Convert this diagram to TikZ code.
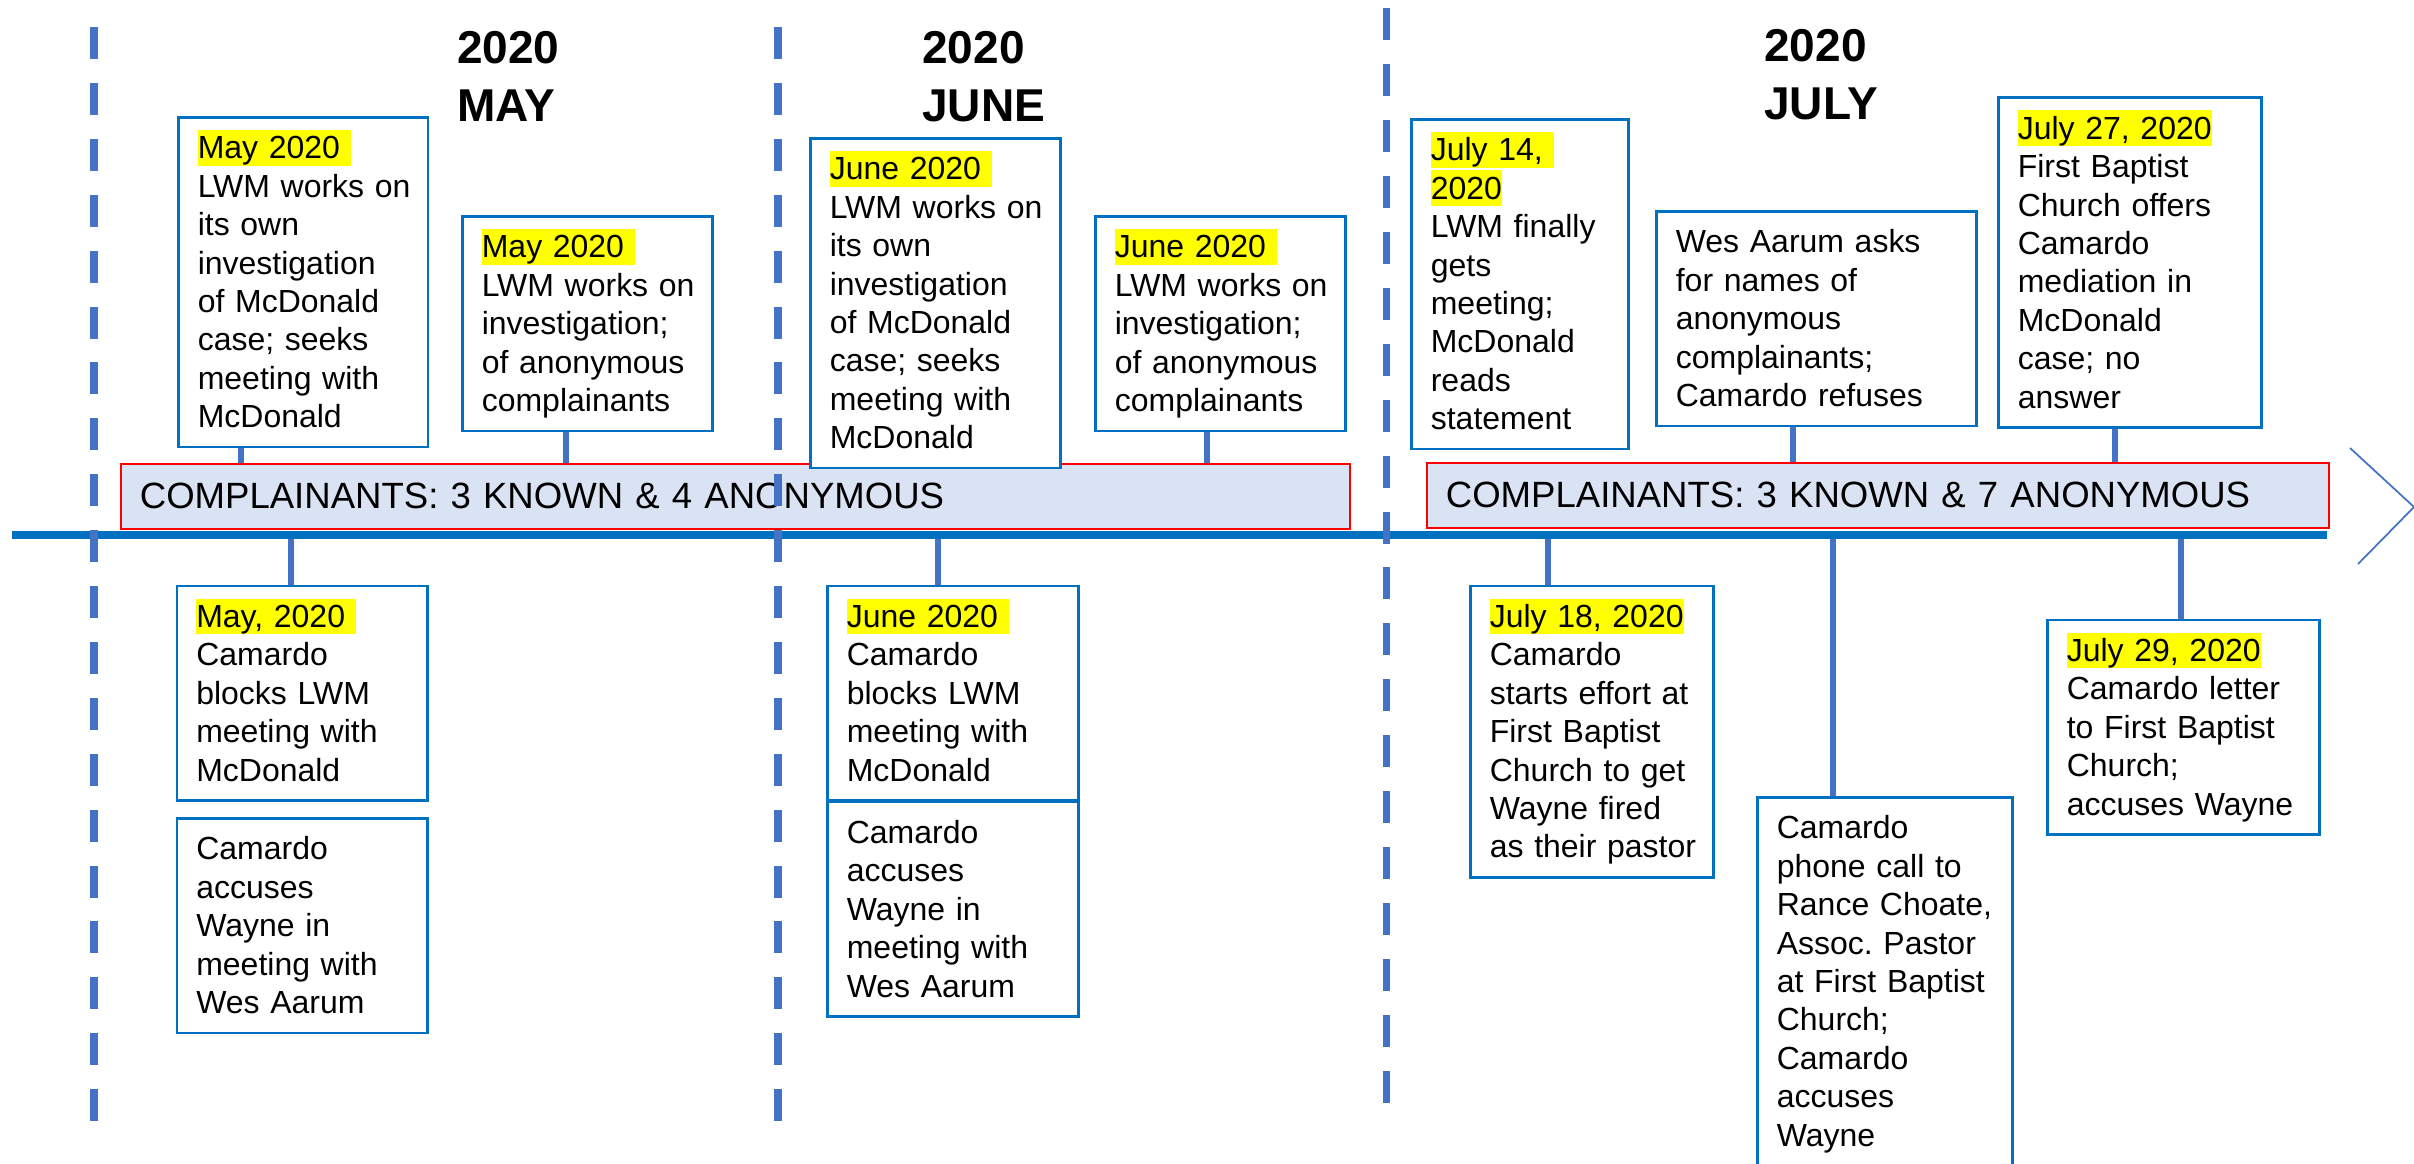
\documentclass[tikz,border=0pt]{standalone}
\usepackage{fontspec}
\setmainfont{Liberation Sans}
\frenchspacing
\definecolor{lineblue}{HTML}{0070C0}
\definecolor{tickblue}{HTML}{4472C4}
\definecolor{barfill}{HTML}{DAE3F3}
\definecolor{hlyellow}{HTML}{FFFF00}
\newcommand{\evfont}{\fontsize{9.1pt}{10.93pt}\selectfont}
\newcommand{\headfont}{\fontsize{13.1pt}{16.67pt}\selectfont\bfseries}
\newcommand{\barfont}{\fontsize{10.4pt}{12pt}\selectfont}
\newcommand{\evstrut}{\rule[-0.212em]{0pt}{1.117em}}
\newcommand{\hl}[1]{{\setlength{\fboxsep}{0pt}\colorbox{hlyellow}{\evstrut#1}}}

\begin{document}
\begin{tikzpicture}[
  head/.style={font=\headfont, anchor=base west, inner sep=0pt, align=left, text width=2.2cm},
  bar/.style={draw=red, line width=0.5pt, fill=barfill, anchor=north west, minimum height=0.65cm,
              inner xsep=0.19cm, inner ysep=0pt, align=left, font=\barfont},
  event/.style={draw=lineblue, line width=0.75pt, fill=white, anchor=north west,
                inner xsep=0pt, inner ysep=0.126cm, align=left, font=\evfont,
                execute at begin node={\leftskip=0.195cm\relax\evstrut},
                execute at end node={\evstrut}},
  stem/.style={draw=tickblue, line width=1.7pt},
  timeline/.style={draw=lineblue, line width=2.2pt},
  divider/.style={draw=tickblue, line width=2pt, dash pattern=on 0.32cm off 0.239cm}]
\useasboundingbox (0,0) rectangle (24.14,-11.63);
\node (mayhead)  at (4.563,-0.63) [head] {2020\\MAY};
\node (junehead) at (9.216,-0.63) [head] {2020\\JUNE};
\node (julyhead) at (17.636,-0.61) [head] {2020\\JULY};
\node (maybar)  at (1.20,-4.63)  [bar, text width=11.91cm] {COMPLAINANTS: 3 KNOWN \& 4 ANONYMOUS};
\node (julybar) at (14.26,-4.62) [bar, text width=8.64cm]  {COMPLAINANTS: 3 KNOWN \& 7 ANONYMOUS};
\node (mayA)  at (1.77,-1.16)   [event, text width=2.495cm] {\hl{May 2020~}\\LWM works on\\its own\\investigation\\of McDonald\\case; seeks\\meeting with\\McDonald};
\node (mayB)  at (4.61,-2.15)   [event, text width=2.50cm]  {\hl{May 2020~}\\LWM works on\\investigation;\\of anonymous\\complainants};
\node (mayC)  at (1.755,-5.846) [event, text width=2.505cm] {\hl{May, 2020~}\\Camardo\\blocks LWM\\meeting with\\McDonald};
\node (mayD)  at (1.755,-8.17)  [event, text width=2.505cm] {Camardo\\accuses\\Wayne in\\meeting with\\Wes Aarum};
\node (juneE) at (8.09,-1.37)   [event, text width=2.50cm]  {\hl{June 2020~}\\LWM works on\\its own\\investigation\\of McDonald\\case; seeks\\meeting with\\McDonald};
\node (juneF) at (10.94,-2.15)  [event, text width=2.50cm]  {\hl{June 2020~}\\LWM works on\\investigation;\\of anonymous\\complainants};
\node (juneG) at (8.26,-5.846)  [event, text width=2.51cm]  {\hl{June 2020~}\\Camardo\\blocks LWM\\meeting with\\McDonald};
\node (juneH) at (8.26,-8.006)  [event, text width=2.51cm]  {Camardo\\accuses\\Wayne in\\meeting with\\Wes Aarum};
\node (julyI) at (14.10,-1.18)  [event, text width=2.17cm]  {\hl{July 14,~}\\\hl{2020}\\LWM finally\\gets\\meeting;\\McDonald\\reads\\statement};
\node (julyJ) at (16.55,-2.10)  [event, text width=3.20cm]  {Wes Aarum asks\\for names of\\anonymous\\complainants;\\Camardo refuses};
\node (julyK) at (19.97,-0.964) [event, text width=2.63cm]  {\hl{July 27, 2020}\\First Baptist\\Church offers\\Camardo\\mediation in\\McDonald\\case; no\\answer};
\node (julyL) at (14.69,-5.846) [event, text width=2.43cm]  {\hl{July 18, 2020}\\Camardo\\starts effort at\\First Baptist\\Church to get\\Wayne fired\\as their pastor};
\node (julyM) at (17.56,-7.96)  [event, text width=2.55cm]  {Camardo\\phone call to\\Rance Choate,\\Assoc. Pastor\\at First Baptist\\Church;\\Camardo\\accuses\\Wayne};
\node (julyN) at (20.46,-6.187) [event, text width=2.72cm]  {\hl{July 29, 2020}\\Camardo letter\\to First Baptist\\Church;\\accuses Wayne};
\coordinate (tlstart) at (0.12,-5.35);
\coordinate (tlend)   at (23.27,-5.35);
\coordinate (stemA) at (2.41,-5.35);
\coordinate (stemB) at (5.66,-5.35);
\coordinate (stemC) at (2.908,-5.35);
\coordinate (stemF) at (12.07,-5.35);
\coordinate (stemG) at (9.38,-5.35);
\coordinate (stemJ) at (17.93,-5.35);
\coordinate (stemK) at (21.15,-5.35);
\coordinate (stemL) at (15.48,-5.35);
\coordinate (stemM) at (18.33,-5.35);
\coordinate (stemN) at (21.81,-5.35);
\draw [stem] (stemA |- mayA.south)  -- (stemA |- maybar.north);
\draw [stem] (stemB |- mayB.south)  -- (stemB |- maybar.north);
\draw [stem] (stemF |- juneF.south) -- (stemF |- maybar.north);
\draw [stem] (stemJ |- julyJ.south) -- (stemJ |- julybar.north);
\draw [stem] (stemK |- julyK.south) -- (stemK |- julybar.north);
\draw [stem] (stemC) -- (stemC |- mayC.north);
\draw [stem] (stemG) -- (stemG |- juneG.north);
\draw [stem] (stemL) -- (stemL |- julyL.north);
\draw [stem] (stemM) -- (stemM |- julyM.north);
\draw [stem] (stemN) -- (stemN |- julyN.north);
\draw [timeline] (tlstart) -- (tlend);
\draw [tickblue, line width=0.5pt] (23.50,-4.48) -- (24.14,-5.07) -- (23.58,-5.64);
\draw [divider] (0.94,-0.27) -- (0.94,-11.22);
\draw [divider] (7.78,-0.27) -- (7.78,-11.22);
\draw [divider] (13.86,-0.084) -- (13.86,-11.03);
\end{tikzpicture}
\end{document}
